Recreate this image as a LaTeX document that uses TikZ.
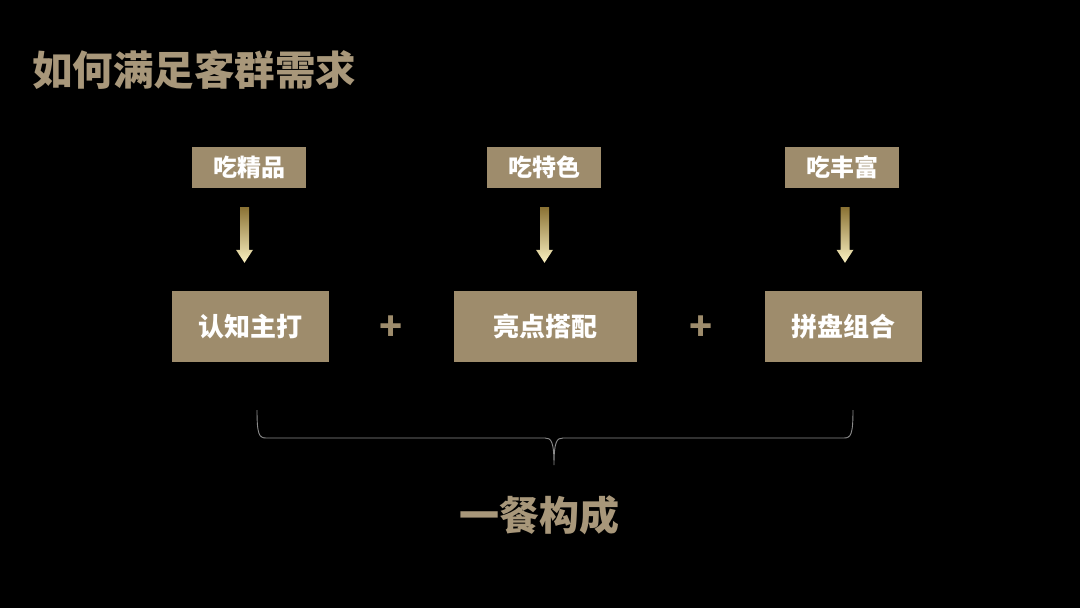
\documentclass[tikz,border=0pt]{standalone}
\usepackage{fontspec}
\setmainfont{Noto Sans CJK SC}
\usetikzlibrary{calc}
\definecolor{gold}{HTML}{9E8C6C}
\definecolor{goldtext}{HTML}{A8977A}
\definecolor{arrtop}{HTML}{8A7234}
\definecolor{arrmid}{HTML}{E6CF6E}
\definecolor{arrbot}{HTML}{FAF0C0}
\definecolor{bracegray}{HTML}{8C8C8C}
\tikzset{
  tagbox/.style={fill=gold, text=white, font=\fontsize{24}{26}\selectfont\bfseries, minimum width=114pt, minimum height=41pt, inner sep=0pt},
  mainbox/.style={fill=gold, text=white, font=\fontsize{26}{28}\selectfont\bfseries, minimum height=71pt, inner sep=0pt},
  plussign/.style={text=gold, font=\fontsize{38}{40}\selectfont\bfseries, inner sep=0pt},
  goldarrow/.style={top color=arrtop, middle color=arrmid, bottom color=arrbot, draw=none},
  bracepath/.style={draw=bracegray, line width=0.9pt}
}
\begin{document}
\begin{tikzpicture}[x=1pt,y=-1pt]
\path[fill=black] (0,0) rectangle (1080,608);
\useasboundingbox (0,0) rectangle (1080,608);

\node[anchor=west, text=goldtext, font=\fontsize{40.5}{42}\selectfont\bfseries, inner sep=0pt] (title) at (32,70) {如何满足客群需求};

\node[tagbox] (t1) at (249,167.5) {吃精品};
\node[tagbox] (t2) at (544,167.5) {吃特色};
\node[tagbox] (t3) at (842,167.5) {吃丰富};

\node[mainbox, minimum width=157pt] (m1) at (250.5,326.5) {认知主打};
\node[mainbox, minimum width=183pt] (m2) at (545.5,326.5) {亮点搭配};
\node[mainbox, minimum width=157pt] (m3) at (843.5,326.5) {拼盘组合};

\node[plussign] (p1) at ($(m1.east)!0.5!(m2.west)+(0,2)$) {+};
\node[plussign] (p2) at ($(m2.east)!0.5!(m3.west)+(0,2)$) {+};

% gradient arrows from tags to boxes
\foreach \t/\m/\dx in {t1/m1/-4.5, t2/m2/0.5, t3/m3/3} {
  \coordinate (a) at ($(\t.south)+(\dx,19)$);
  \coordinate (bb) at (a |- \m.north);
  \coordinate (b) at ($(bb)+(0,-28)$);
  \shade[goldarrow]
    ($(a)+(-4.5,0)$) -- ($(a)+(4.5,0)$) -- ($(b)+(4.5,-13)$) -- ($(b)+(8.5,-13)$)
    -- (b) -- ($(b)+(-8.5,-13)$) -- ($(b)+(-4.5,-13)$) -- cycle;
}

% brace
\coordinate (bl) at (257,410);
\coordinate (br) at (853,410);
\coordinate (btip) at (554,465);
\draw[bracepath] (bl) .. controls (257,434) and (259,438) .. (266,438)
  -- (545,438) .. controls (551,438) and (554,441) .. (btip)
  .. controls (554,441) and (557,438) .. (563,438)
  -- (844,438) .. controls (851,438) and (853,434) .. (br);

\node[text=goldtext, font=\fontsize{40}{42}\selectfont\bfseries, inner sep=0pt] (total) at (539,515) {一餐构成};
\end{tikzpicture}
\end{document}
